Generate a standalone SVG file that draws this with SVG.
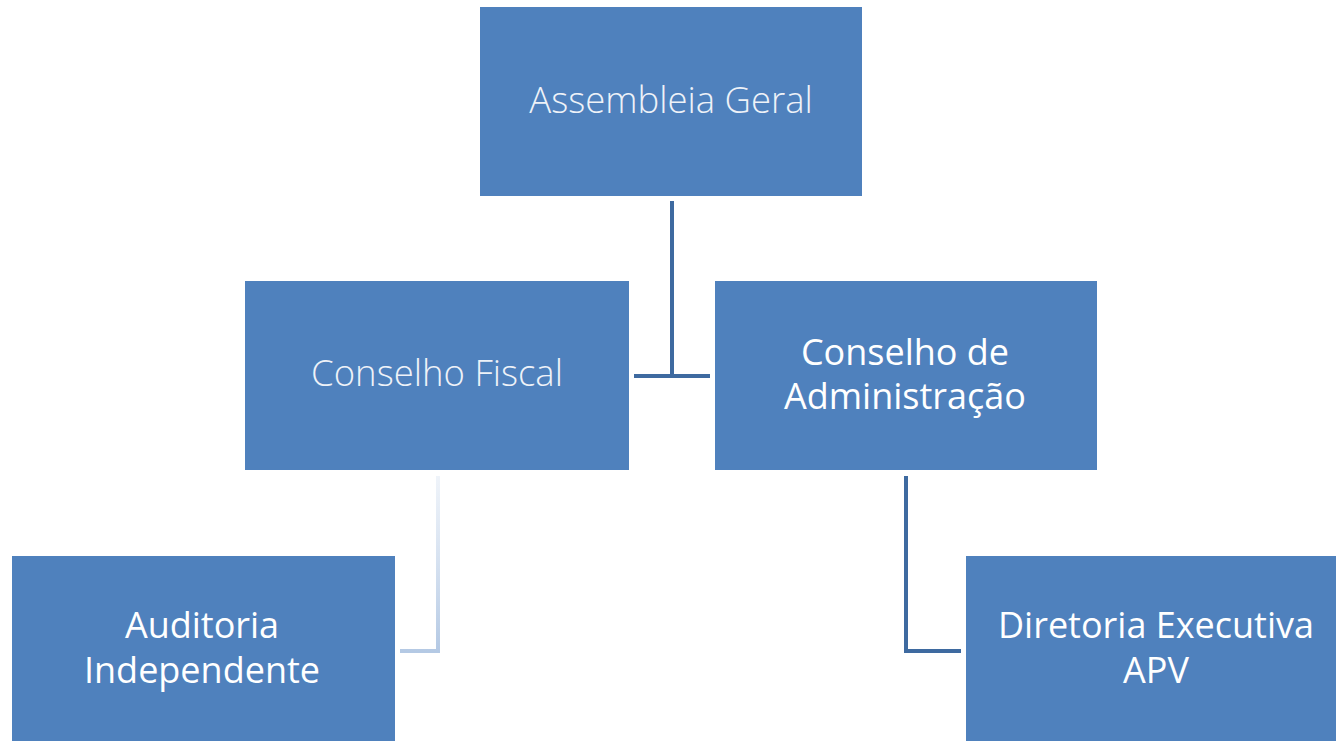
<svg xmlns="http://www.w3.org/2000/svg" width="1336" height="741" viewBox="0 0 1336 741">
<defs>
<style>
.box{fill:#4F81BD;}
.t{font-family:"Open Sans","Noto Sans",sans-serif;font-size:36px;fill:#FFFFFF;text-anchor:middle;}
.l{font-weight:300;fill:#EEF2F8;font-size:36.5px;}
.conn{fill:none;stroke:#3E6AA0;stroke-width:4;}
</style>
<linearGradient id="fade" x1="0" y1="0" x2="0" y2="1">
<stop offset="0" stop-color="#C9D8EC" stop-opacity="0.3"/>
<stop offset="1" stop-color="#B4C9E4"/>
</linearGradient>
</defs>
<rect width="1336" height="741" fill="#FFFFFF"/>
<g id="connectors">
<path class="conn" d="M672 201 V377 M634 376 H710"/>
<path class="conn" d="M906 476 V651 H961"/>
<path d="M438 476 V651 H400" fill="none" stroke="url(#fade)" stroke-width="4"/>
</g>
<g id="assembleia">
<rect class="box" x="480" y="7" width="382" height="189"/>
<text class="t l" x="671" y="113">Assembleia Geral</text>
</g>
<g id="conselho-fiscal">
<rect class="box" x="245" y="281" width="384" height="189"/>
<text class="t l" x="437" y="386">Conselho Fiscal</text>
</g>
<g id="conselho-admin">
<rect class="box" x="715" y="281" width="382" height="189"/>
<text class="t" x="905" y="365">Conselho de</text>
<text class="t" x="905" y="409">Administração</text>
</g>
<g id="auditoria">
<rect class="box" x="12" y="556" width="383" height="185"/>
<text class="t" x="202" y="638">Auditoria</text>
<text class="t" x="202" y="683">Independente</text>
</g>
<g id="diretoria">
<rect class="box" x="966" y="556" width="370" height="185"/>
<text class="t" x="1156" y="638">Diretoria Executiva</text>
<text class="t" x="1156" y="683">APV</text>
</g>
</svg>
